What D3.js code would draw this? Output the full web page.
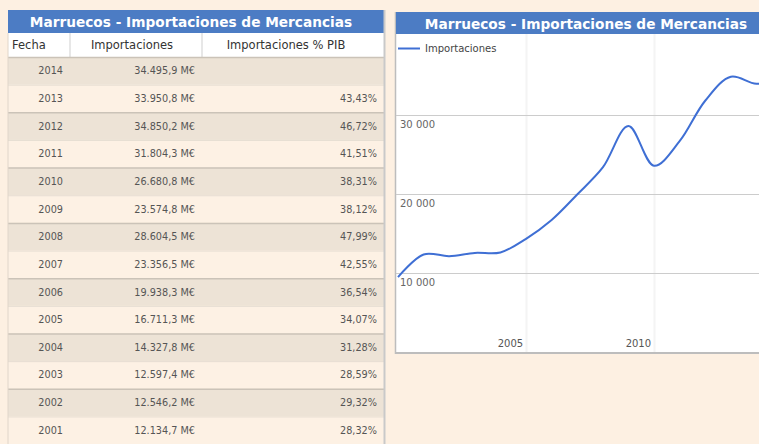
<!DOCTYPE html>
<html>
<head>
<meta charset="utf-8">
<script src="https://cdn.jsdelivr.net/npm/d3@7"></script>
<style>
html,body{margin:0;padding:0;background:#fdf0e2;}
svg{display:block;}
text{font-family:"DejaVu Sans",Verdana,sans-serif;}
</style>
</head>
<body>
<svg id="c" width="759" height="444"></svg>
<script>
// ---- data ----
const title = "Marruecos - Importaciones de Mercancias";
const headers = ["Fecha", "Importaciones", "Importaciones % PIB"];
const tableYears = [2014, 2013, 2012, 2011, 2010, 2009, 2008, 2007, 2006, 2005, 2004, 2003, 2002, 2001];
const tableImports = [34495.9, 33950.8, 34850.2, 31804.3, 26680.8, 23574.8, 28604.5, 23356.5, 19938.3, 16711.3, 14327.8, 12597.4, 12546.2, 12134.7];
const tablePct = [null, 43.43, 46.72, 41.51, 38.31, 38.12, 47.99, 42.55, 36.54, 34.07, 31.28, 28.59, 29.32, 28.32];
const seriesName = "Importaciones";
const chartYears = [1999, 2000, 2001, 2002, 2003, 2004, 2005, 2006, 2007, 2008, 2009, 2010, 2011, 2012, 2013, 2014];
const chartValues = [9480, 12350, 12134.7, 12546.2, 12597.4, 14327.8, 16711.3, 19938.3, 23356.5, 28604.5, 23574.8, 26680.8, 31804.3, 34850.2, 33950.8, 34495.9];
const yTicks = [10000, 20000, 30000];
const xTickYears = [2005, 2010];

// ---- helpers ----
const fmtNum = v => {
  const s = v.toFixed(1).split(".");
  return s[0].replace(/\B(?=(\d{3})+(?!\d))/g, ".") + "," + s[1];
};
const svg = d3.select("#c");
const blue = "#4c7cc4";

// ================= TABLE =================
const T = {left: 8, right: 384, titleTop: 10, titleBot: 33, headBot: 57, rowH: 27.65};
const colDiv = [70, 202];

svg.append("rect").attr("x", T.left).attr("y", T.titleTop)
  .attr("width", T.right - T.left).attr("height", T.titleBot - T.titleTop).attr("fill", blue);
svg.append("text").attr("x", (T.left + T.right) / 2 - 5).attr("y", T.titleTop + 16.5)
  .attr("text-anchor", "middle").attr("fill", "#fff").attr("font-weight", "bold")
  .attr("font-size", 13.7).text(title);

svg.append("rect").attr("x", T.left).attr("y", T.titleBot)
  .attr("width", T.right - T.left).attr("height", T.headBot - T.titleBot).attr("fill", "#fff");
colDiv.forEach(x => svg.append("line").attr("x1", x).attr("x2", x)
  .attr("y1", T.titleBot).attr("y2", T.headBot).attr("stroke", "#cfcfcf"));
const headX = [12, 132, 286];
const headAnchor = ["start", "middle", "middle"];
headers.forEach((h, i) => svg.append("text").attr("x", headX[i]).attr("y", T.titleBot + 16)
  .attr("text-anchor", headAnchor[i]).attr("font-size", 11.5).attr("fill", "#333").text(h));

const rowScale = d3.scaleBand().domain(tableYears).range([T.headBot, T.headBot + T.rowH * tableYears.length]);
const rows = svg.append("g").selectAll("g").data(tableYears).join("g")
  .attr("transform", d => `translate(0,${rowScale(d)})`);
rows.append("rect").attr("x", T.left).attr("width", T.right - T.left)
  .attr("height", rowScale.bandwidth())
  .attr("fill", (d, i) => i % 2 === 0 ? "#ede3d6" : "#fdf1e4");
rows.append("line").attr("x1", T.left).attr("x2", T.right)
  .attr("y1", 0.5).attr("y2", 0.5)
  .attr("stroke", (d, i) => i % 2 === 0 ? "#cbc3b8" : "#e6ddd2").attr("stroke-width", (d, i) => i % 2 === 0 ? 1.5 : 1);
const ty = rowScale.bandwidth() / 2 + 3.5;
rows.append("text").attr("x", 63).attr("y", ty).attr("text-anchor", "end")
  .attr("font-size", 9.7).attr("fill", "#555").text(d => d);
rows.append("text").attr("x", 195).attr("y", ty).attr("text-anchor", "end")
  .attr("font-size", 9.7).attr("fill", "#555").text((d, i) => fmtNum(tableImports[i]) + " M€");
rows.append("text").attr("x", 377).attr("y", ty).attr("text-anchor", "end")
  .attr("font-size", 9.7).attr("fill", "#555")
  .text((d, i) => tablePct[i] == null ? "" : tablePct[i].toFixed(2).replace(".", ",") + "%");
svg.append("line").attr("x1", T.right + 0.5).attr("x2", T.right + 0.5)
  .attr("y1", T.titleTop).attr("y2", 444).attr("stroke", "#c9c9c9").attr("stroke-width", 2);
svg.append("line").attr("x1", T.left).attr("x2", T.left)
  .attr("y1", T.titleBot).attr("y2", 444).attr("stroke", "#e0d6ca").attr("stroke-width", 1);

// ================= CHART =================
const P = {left: 396, right: 776, titleTop: 12, top: 34, bottom: 352};
svg.append("rect").attr("x", P.left).attr("y", P.top).attr("width", P.right - P.left)
  .attr("height", P.bottom - P.top).attr("fill", "#fff");
svg.append("line").attr("x1", P.left - 0.5).attr("x2", P.left - 0.5).attr("y1", P.titleTop)
  .attr("y2", P.bottom + 2).attr("stroke", "#bdbdbd").attr("stroke-width", 1.5);
svg.append("line").attr("x1", P.left - 1).attr("x2", P.right).attr("y1", P.bottom + 1)
  .attr("y2", P.bottom + 1).attr("stroke", "#bdbdbd").attr("stroke-width", 2);
svg.append("rect").attr("x", P.left).attr("y", P.titleTop).attr("width", P.right - P.left)
  .attr("height", P.top - P.titleTop).attr("fill", blue);
svg.append("text").attr("x", (P.left + P.right) / 2).attr("y", P.titleTop + 16.5)
  .attr("text-anchor", "middle").attr("fill", "#fff").attr("font-weight", "bold")
  .attr("font-size", 13.7).text(title);

const x = d3.scaleTime()
  .domain([new Date(1999, 11, 31), new Date(2014, 11, 31)])
  .range([P.left + 2, P.left + 2 + 15 * 25.6]);
const y = d3.scaleLinear().domain([0, 40000]).range([P.bottom, P.top + 2]);

svg.append("clipPath").attr("id", "pc").append("rect")
  .attr("x", P.left).attr("y", P.top).attr("width", P.right - P.left).attr("height", P.bottom - P.top);

const plot = svg.append("g").attr("clip-path", "url(#pc)");
plot.selectAll("line.vx").data(xTickYears).join("line").attr("class", "vx")
  .attr("x1", d => Math.round(x(new Date(d, 0, 1))) + 0.5).attr("x2", d => Math.round(x(new Date(d, 0, 1))) + 0.5)
  .attr("y1", P.top).attr("y2", P.bottom).attr("stroke", "#f4f4f4").attr("stroke-width", 2);
plot.selectAll("line.hy").data(yTicks).join("line").attr("class", "hy")
  .attr("x1", P.left).attr("x2", P.right)
  .attr("y1", d => Math.round(y(d)) + 0.5).attr("y2", d => Math.round(y(d)) + 0.5)
  .attr("stroke", "#cccccc").attr("stroke-width", 1);
plot.selectAll("text.yl").data(yTicks).join("text").attr("class", "yl")
  .attr("x", P.left + 4).attr("y", d => y(d) + 12.5).attr("font-size", 10)
  .attr("fill", "#666").text(d => d3.format(",")(d).replace(",", " "));
plot.selectAll("text.xl").data(xTickYears).join("text").attr("class", "xl")
  .attr("x", d => x(new Date(d, 0, 1)) - 3).attr("y", P.bottom - 5).attr("text-anchor", "end")
  .attr("font-size", 10).attr("fill", "#555").text(d => d);

const line = d3.line()
  .x((d, i) => x(new Date(chartYears[i], 11, 31)))
  .y(d => y(d))
  .curve(d3.curveCatmullRom.alpha(0.5));
plot.append("path").datum(chartValues).attr("d", line)
  .attr("fill", "none").attr("stroke", "#3f6fd4").attr("stroke-width", 2);

// legend
svg.append("line").attr("x1", P.left + 2).attr("x2", P.left + 24).attr("y1", 48.5).attr("y2", 48.5)
  .attr("stroke", "#3f6fd4").attr("stroke-width", 2);
svg.append("text").attr("x", P.left + 29).attr("y", 51.5).attr("font-size", 10)
  .attr("fill", "#444").text(seriesName);
</script>
</body>
</html>
